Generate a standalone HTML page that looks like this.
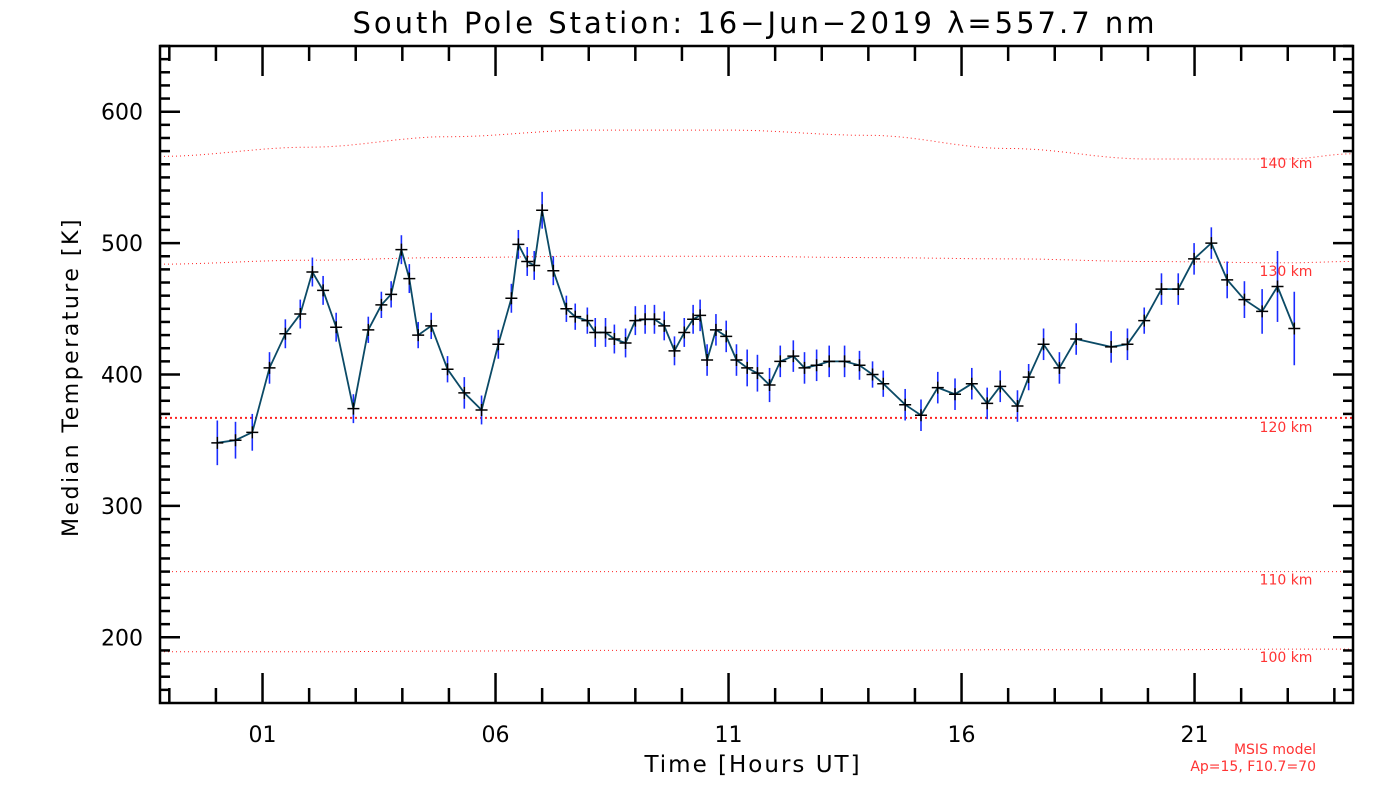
<!DOCTYPE html>
<html><head><meta charset="utf-8"><style>
body{margin:0;background:#fff}
svg{display:block;font-family:"DejaVu Sans","Liberation Sans",sans-serif}
</style></head><body>
<svg id="chart" width="1400" height="800" viewBox="0 0 1400 800">
<text x="755" y="33" font-size="29" letter-spacing="3" text-anchor="middle">South Pole Station: 16−Jun−2019 λ=557.7 nm</text>
<text transform="translate(78,377) rotate(-90)" font-size="22" letter-spacing="2.5" text-anchor="middle">Median Temperature [K]</text>
<text x="753" y="772" font-size="23" letter-spacing="2" text-anchor="middle">Time [Hours UT]</text>
<text x="1316" y="754" font-size="14" fill="#f33" text-anchor="end">MSIS model</text>
<text x="1316" y="771" font-size="14" fill="#f33" text-anchor="end">Ap=15, F10.7=70</text>
<g id="g"></g>
</svg>
<script>
const hours=[0.03,0.42,0.78,1.15,1.49,1.81,2.07,2.30,2.58,2.95,3.27,3.55,3.76,3.98,4.15,4.34,4.62,4.97,5.33,5.70,6.06,6.34,6.49,6.68,6.83,7.0,7.24,7.52,7.71,7.97,8.14,8.36,8.55,8.79,9.0,9.21,9.41,9.62,9.84,10.05,10.24,10.39,10.54,10.73,10.95,11.17,11.40,11.62,11.88,12.11,12.39,12.63,12.89,13.16,13.49,13.81,14.09,14.32,14.79,15.13,15.49,15.86,16.22,16.55,16.83,17.2,17.44,17.76,18.1,18.46,19.21,19.56,19.92,20.29,20.65,20.99,21.36,21.7,22.07,22.45,22.78,23.14];
const temps=[348,350,356,405,431,446,478,464,436,374,434,453,461,495,473,430,437,404,386,373,423,458,499,486,483,525,479,450,444,441,432,432,427,424,441,442,442,437,418,432,442,445,411,434,429,411,405,401,392,410,414,405,407,410,410,407,400,393,377,369,390,385,393,378,391,376,398,423,405,427,421,423,441,465,465,488,500,472,457,448,467,435];
const errs=[17,14,14,12,11,11,11,11,11,11,10,10,10,11,11,10,10,10,12,11,11,11,11,11,11,14,11,10,10,10,11,11,11,11,11,11,11,11,11,11,11,12,12,12,12,12,14,14,13,12,12,12,12,12,12,11,10,10,12,12,12,12,12,12,12,12,10,12,12,12,12,12,10,12,12,12,12,14,14,17,27,28];
const msisHours=[-1.2,2,5,8,11,14,17,20,23,24.4];
const msis140=[566,573,581,586,586,582,572,564,564,568];
const msis130=[484,487,489,490,490,489,488,486,485,486];
const msis120=[367,367,367,367,367,367,367,367,367,367];
const msis110=[250,250,250,250,250,250,250,250,250,250];
const msis100=[189,189,189.5,190,190,190,190.5,190.5,191,191];
const msisLabels=["140 km","130 km","120 km","110 km","100 km"];
const yTicks=[200,300,400,500,600];
const xTicks=[1,6,11,16,21];
const xTickLabels=["01","06","11","16","21"];

const L=160,R=1353,T=46,B=703;
const x0=-1.2,x1=24.4,y0=150,y1=650;
const X=h=>L+(h-x0)/(x1-x0)*(R-L);
const Y=t=>B-(t-y0)/(y1-y0)*(B-T);
const NS="http://www.w3.org/2000/svg";
const g=document.getElementById('g');
function mk(tag,attrs,parent){const e=document.createElementNS(NS,tag);for(const k in attrs)e.setAttribute(k,attrs[k]);(parent||g).appendChild(e);return e;}

const sets=[msis140,msis130,msis120,msis110,msis100];
sets.forEach((s,i)=>{
  let d='';
  for(let k=0;k<=200;k++){
    const h=x0+(x1-x0)*k/200;
    let j=0;while(j<msisHours.length-2&&h>msisHours[j+1])j++;
    const f=(h-msisHours[j])/(msisHours[j+1]-msisHours[j]);
    const fs=(1-Math.cos(Math.PI*Math.min(1,Math.max(0,f))))/2;
    const t=s[j]+(s[j+1]-s[j])*fs;
    d+=(k?'L':'M')+X(h).toFixed(1)+' '+Y(t).toFixed(1);
  }
  const p=mk('path',{d:d,fill:'none',stroke:'#f22','stroke-width':i==2?2:1,'stroke-dasharray':i==2?'2 3':'1 3'});
  
  
  const lab=mk('text',{x:1286,y:Y(s[s.length-2])+(i==2?14:i==0?9:13),'font-size':14,fill:'#f33','text-anchor':'middle'});
  lab.textContent=msisLabels[i];
  
  
});

hours.forEach((h,i)=>{
  const e=mk('line',{x1:X(h),x2:X(h),y1:Y(temps[i]+errs[i]),y2:Y(temps[i]-errs[i]),stroke:'#1a2cff','stroke-width':1.6});
  
  
});
let d='';hours.forEach((h,i)=>{d+=(i?'L':'M')+X(h).toFixed(1)+' '+Y(temps[i]).toFixed(1);});
const ln=mk('path',{d:d,fill:'none',stroke:'#0b4a66','stroke-width':1.8});


hours.forEach((h,i)=>{
  const x=X(h),y=Y(temps[i]);
  const m=mk('path',{d:`M${x-6} ${y}H${x+6}M${x} ${y-6}V${y+6}`,stroke:'#000','stroke-width':1.5});
  
  
});

const fr=mk('rect',{x:L,y:T,width:R-L,height:B-T,fill:'none',stroke:'#000','stroke-width':2.5});


for(let t=160;t<=650;t+=10){
  const major=t%100==0, len=major?20:10, y=Y(t);
  mk('line',{x1:L,x2:L+len,y1:y,y2:y,stroke:'#000','stroke-width':2.5});
  mk('line',{x1:R,x2:R-len,y1:y,y2:y,stroke:'#000','stroke-width':2.5});
}
yTicks.forEach(t=>{
  const tx=mk('text',{x:143,y:Y(t)+8,'font-size':22,'text-anchor':'end'});
  tx.textContent=t;
  
  
});
for(let h=-1;h<=24;h++){
  const major=xTicks.includes(h), len=major?30:15;
  mk('line',{x1:X(h),x2:X(h),y1:B,y2:B-len,stroke:'#000','stroke-width':2.5});
  mk('line',{x1:X(h),x2:X(h),y1:T,y2:T+len,stroke:'#000','stroke-width':2.5});
}
xTicks.forEach((h,i)=>{
  const tx=mk('text',{x:X(h),y:742,'font-size':22,'text-anchor':'middle'});
  tx.textContent=xTickLabels[i];
  
  
});
</script>
</body></html>
